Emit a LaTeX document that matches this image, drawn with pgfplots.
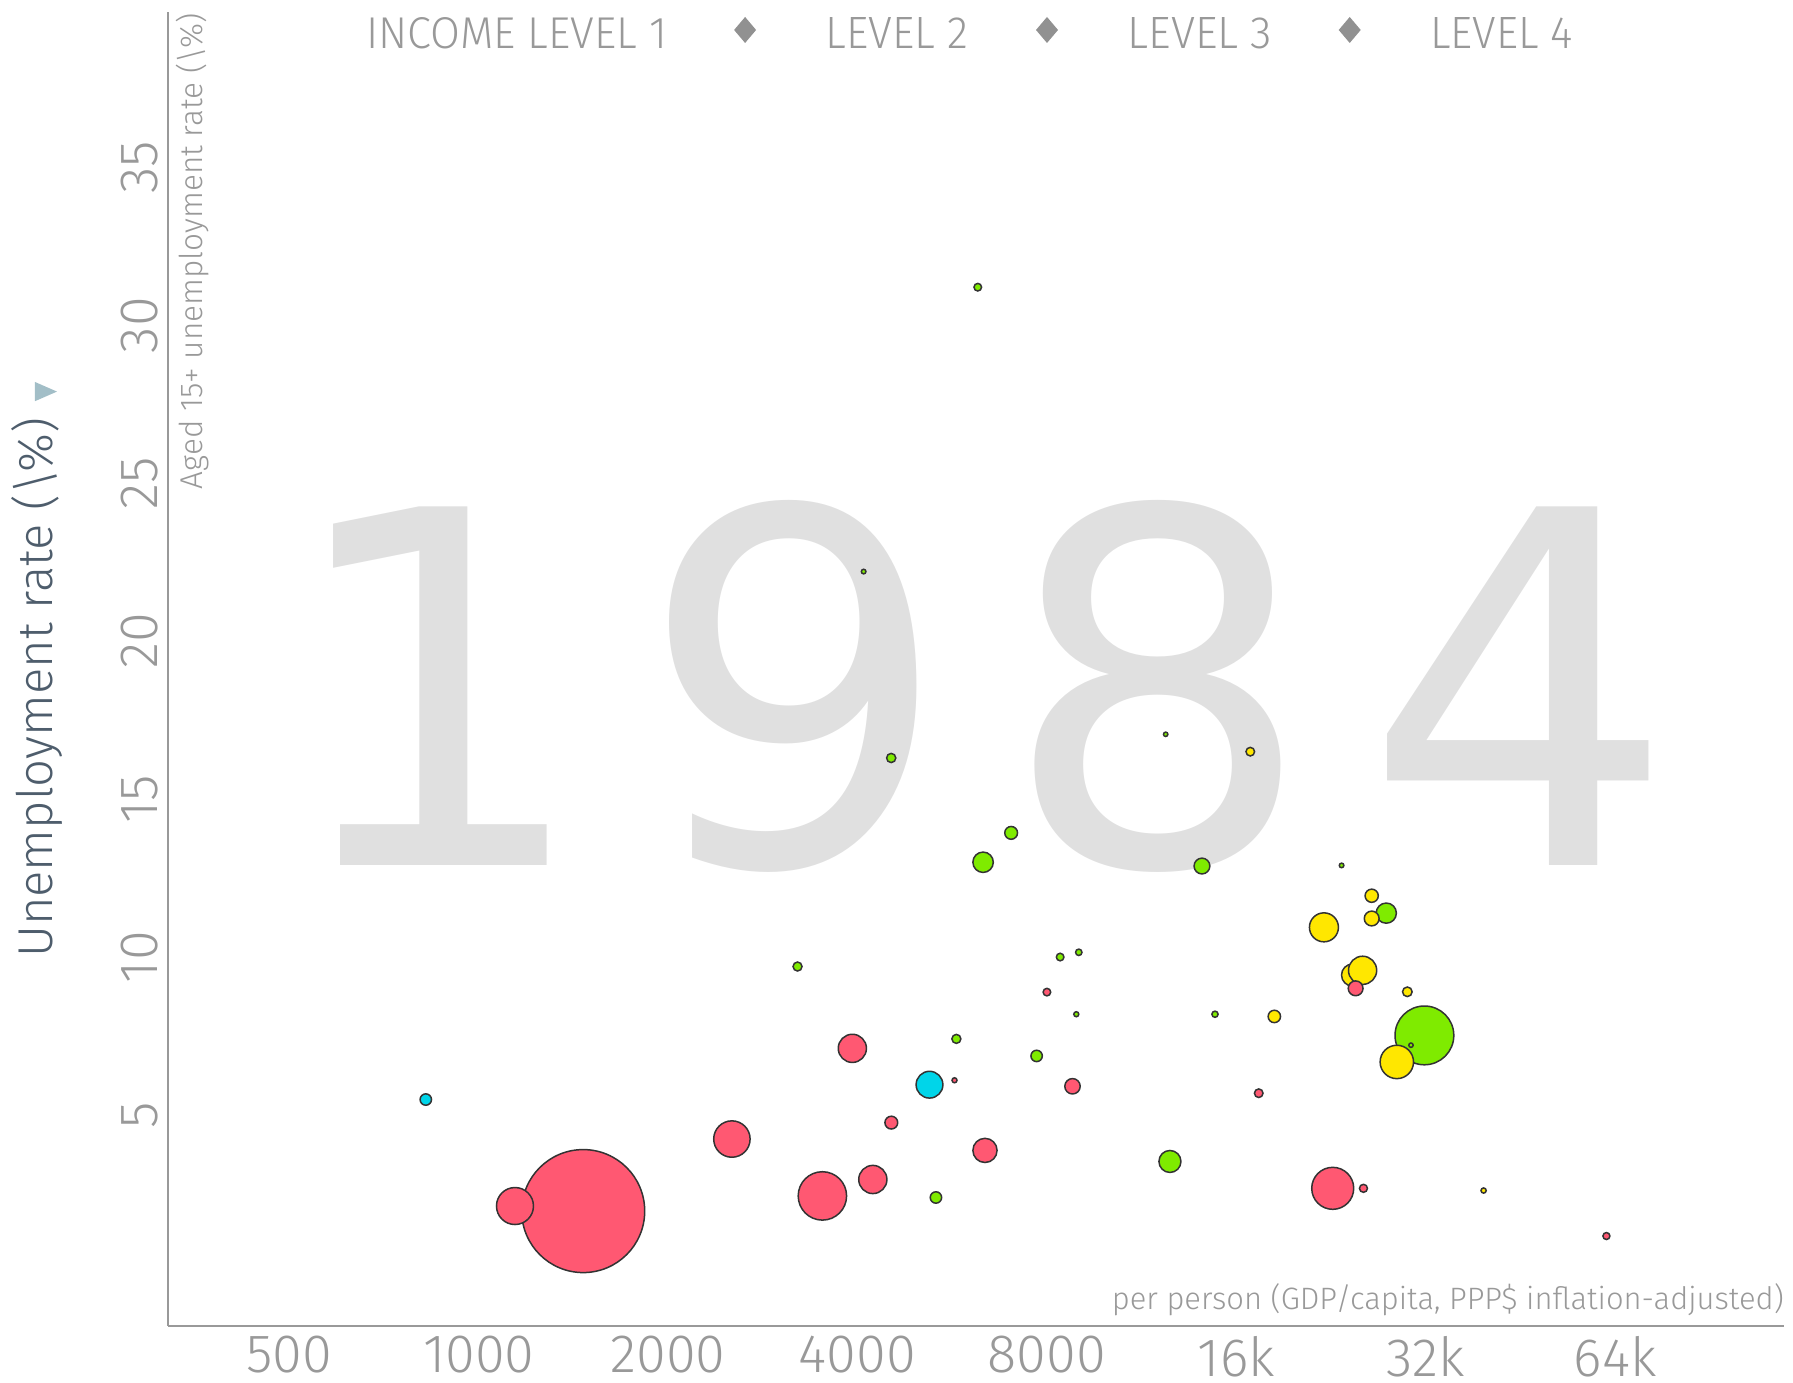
\documentclass[border=0pt]{standalone}
\usepackage{pgfplots}
\pgfplotsset{compat=1.18}
\usepackage{pgfplotstable}
\usepackage{graphicx}
\usepackage{fontspec}
\IfFontExistsTF{Fira Sans Light}{\setmainfont{Fira Sans Light}}{%
  \IfFontExistsTF{Lato Light}{\setmainfont{Lato Light}}{\setmainfont{Open Sans}}}
\newfontfamily\wmfont{DejaVu Sans}
\definecolor{cRed}{HTML}{FF5872}
\definecolor{cCyan}{HTML}{00D5E9}
\definecolor{cGreen}{HTML}{7FEB00}
\definecolor{cYellow}{HTML}{FFE700}
\definecolor{axgray}{HTML}{999999}
\definecolor{wm}{HTML}{E0E0E0}
\definecolor{ylab}{HTML}{4E5D6C}
\definecolor{tri}{HTML}{A2BEC7}
\definecolor{strk}{HTML}{333333}

\pgfplotstableread{
x y r
31850 7.52 29.4
12550 3.53 11.0
6334 13.0 10.2
27700 11.39 10.1
14110 12.88 7.9
7019 13.93 6.4
5330 2.39 5.7
7706 6.87 5.7
4525 16.3 4.6
5744 7.41 4.5
3212 9.7 4.5
6212 31.2 3.8
8397 10.0 3.8
8990 10.15 3.2
14800 8.19 3.1
8908 8.19 2.5
23520 12.90 2.3
4091 22.2 2.3
12356 17.05 2.2
30320 7.21 2.2
}\greendata

\pgfplotstableread{
x y r
28790 6.68 16.7
22050 10.94 14.5
24480 9.43 11.0
25400 9.58 14.1
26260 11.22 7.4
26260 11.94 6.6
18390 8.12 6.2
29920 8.90 4.8
16840 16.5 4.3
39560 2.61 2.6
}\yellowdata

\pgfplotstableread{
x y r
1466 1.96 61.5
3518 2.44 24.2
22770 2.68 21.0
1142 2.12 18.5
2526 4.24 18.2
3926 7.11 14.1
4231 2.96 14.1
6378 3.88 12.1
8786 5.91 7.7
24760 9.01 7.4
4527 4.76 6.4
17370 5.69 4.3
25480 2.68 4.0
8000 8.89 3.8
62000 1.17 3.5
5705 6.1 2.5
}\reddata

\pgfplotstableread{
x y r
5206 5.96 13.4
824 5.49 5.7
}\cyandata

\pgfplotsset{
  bubble/.style={scatter, only marks, mark=*,
    point meta={\thisrow{r}},
    visualization depends on={\thisrow{r}\as\rad},
    scatter/use mapped color={draw=strk, fill=#1},
    scatter/@pre marker code/.append style={/tikz/mark size=\rad pt},
    mark options={line width=1.5pt}},
}

\begin{document}
\begin{tikzpicture}[x=1pt,y=1pt]
\path[use as bounding box] (-168,-57) rectangle (1625,1326);
% year watermark
\begin{scope}[every node/.style={inner sep=0pt, anchor=base, text=wm, font=\wmfont\fontsize{492}{492}\selectfont}]
\node at (268,460.4) {1};
\node at (627,460.4) {9};
\node at (990,460.4) {8};
\node at (1352,460.4) {4};
\end{scope}

\begin{axis}[
  at={(0,0)}, anchor=south west,
  scale only axis, width=1616pt, height=1314pt,
  xmode=log, xmin=320.8, xmax=118740, ymin=-1.677, ymax=39.91,
  axis x line*=bottom, axis y line*=left,
  axis line style={-, draw=axgray, line width=1.8pt},
  major tick length=0pt, tick style={draw=none},
  xtick={500,1000,2000,4000,8000,16000,32000,64000},
  xticklabels={500,1000,2000,4000,8000,16k,32k,64k},
  ytick={5,10,15,20,25,30,35},
  yticklabels={5,10,15,20,25,30,35},
  tick label style={font=\fontsize{54}{54}\selectfont, text=axgray, inner sep=0pt},
  xticklabel style={anchor=north},
  xticklabel shift=10pt,
  yticklabel style={rotate=90, anchor=south},
  yticklabel shift=10pt,
  clip=false,
]
\addplot[bubble=cGreen] table[x=x,y=y] {\greendata};
\addplot[bubble=cYellow] table[x=x,y=y] {\yellowdata};
\addplot[bubble=cRed] table[x=x,y=y] {\reddata};
\addplot[bubble=cCyan] table[x=x,y=y] {\cyandata};
\end{axis}

% axis titles
\node[rotate=90, anchor=base west, inner sep=0pt, text=ylab] at (-115,368)
  {\resizebox{540pt}{!}{Unemployment rate (\textbackslash\%)}};
\fill[tri] (-133,944) -- (-111,934.4) -- (-133,924.8) -- cycle;
\node[rotate=90, anchor=base west, inner sep=0pt, text=axgray] at (34,836.6)
  {\resizebox{475.7pt}{!}{Aged 15+ unemployment rate (\textbackslash\%)}};
\node[anchor=base east, inner sep=0pt, text=axgray] at (1616,16)
  {\resizebox{672pt}{!}{per person (GDP/capita, PPP\$ inflation-adjusted)}};

% legend
\begin{scope}[every node/.style={anchor=base west, inner sep=0pt, text=axgray}]
\node at (198,1277) {\resizebox{300.7pt}{31pt}{INCOME LEVEL 1}};
\node at (657.3,1277) {\resizebox{142.5pt}{31pt}{LEVEL 2}};
\node at (959.4,1277) {\resizebox{144.4pt}{31pt}{LEVEL 3}};
\node at (1262,1277) {\resizebox{142.6pt}{31pt}{LEVEL 4}};
\end{scope}
\foreach \cx in {577.1,879,1181.7}{
  \fill[axgray!95!black] (\cx,1309) -- (\cx+11,1296) -- (\cx,1283) -- (\cx-11,1296) -- cycle;
}
\end{tikzpicture}
\end{document}
